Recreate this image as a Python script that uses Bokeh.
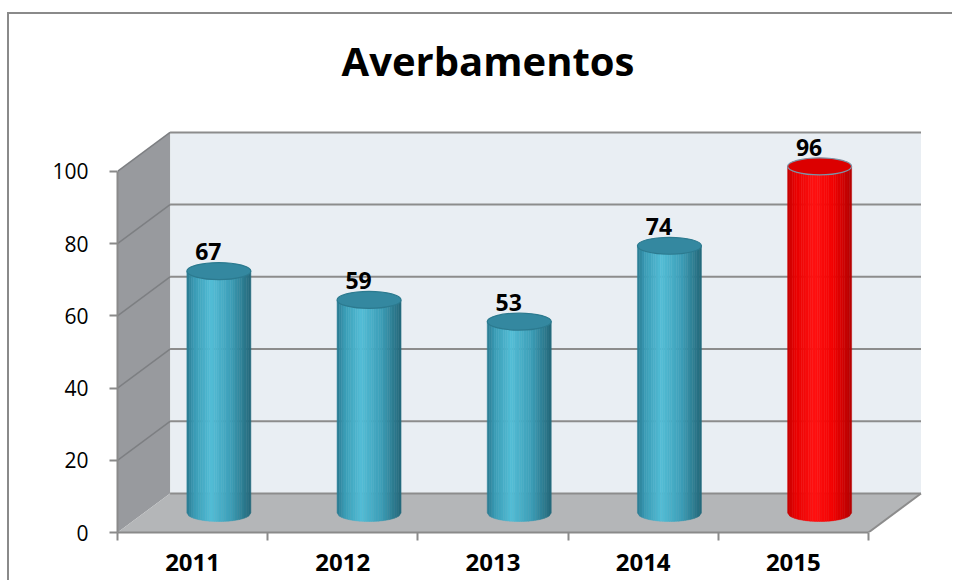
import numpy as np
from bokeh.plotting import figure
from bokeh.models import Range1d, FixedTicker
from bokeh.core.properties import value
from bokeh.embed import file_html
from bokeh.resources import INLINE

# ---- data ----
years = ["2011", "2012", "2013", "2014", "2015"]
counts = [67, 59, 53, 74, 96]
highlight = [False, False, False, False, True]
y_ticks = [0, 20, 40, 60, 80, 100]
title_text = "Averbamentos"

# ---- 3D geometry (data units) ----
DX = 0.35      # depth offset along x (categories)
DY = 10.8      # depth offset along y (values)
CW = 0.426     # cylinder width
EH = 4.7       # ellipse height
NSTRIP = 28

def hex2rgb(h):
    h = h.lstrip("#")
    return np.array([int(h[i:i + 2], 16) for i in (0, 2, 4)], dtype=float)

def grad(stops, t):
    ts = [s[0] for s in stops]
    cs = [hex2rgb(s[1]) for s in stops]
    for i in range(len(ts) - 1):
        if ts[i] <= t <= ts[i + 1]:
            f = (t - ts[i]) / (ts[i + 1] - ts[i])
            c = cs[i] * (1 - f) + cs[i + 1] * f
            return "#%02x%02x%02x" % tuple(int(round(v)) for v in c)
    return stops[-1][1]

blue_stops = [(0, "#2a7a90"), (0.12, "#3a9cb5"), (0.38, "#53bdd6"), (0.7, "#3c9db6"), (1, "#246779")]
red_stops = [(0, "#c40000"), (0.12, "#e80000"), (0.42, "#ff1212"), (0.72, "#f20000"), (1, "#b20000")]

p = figure(width=945, height=568, output_backend="svg", toolbar_location=None,
           x_range=Range1d(0, 5.36), y_range=Range1d(0, 143.45),
           min_border_left=108, min_border_right=32, min_border_top=0, min_border_bottom=50,
           background_fill_color="white", border_fill_color="white")
p.styles = {"border-top": "2px solid #8a8a8a", "border-left": "2px solid #8a8a8a",
            "margin-top": "12px", "margin-left": "7px"}
p.outline_line_color = None
p.xgrid.visible = False
p.ygrid.visible = False

# ---- walls ----
n = len(years)
p.quad(left=[DX], right=[n + DX], bottom=[DY], top=[y_ticks[-1] + DY],
       fill_color="#e9eef3", line_color=None)
p.patch([0, DX, DX, 0], [0, DY, y_ticks[-1] + DY, y_ticks[-1]],
        fill_color="#989a9e", line_color=None)
p.patch([0, n, n + DX, DX], [0, 0, DY, DY], fill_color="#b4b6b8", line_color=None)

# gridlines
p.segment(x0=[DX] * len(y_ticks), y0=[t + DY for t in y_ticks],
          x1=[n + DX] * len(y_ticks), y1=[t + DY for t in y_ticks],
          line_color="#8c8c8c", line_width=2)
p.segment(x0=[0] * (len(y_ticks) - 1), y0=y_ticks[1:],
          x1=[DX] * (len(y_ticks) - 1), y1=[t + DY for t in y_ticks[1:]],
          line_color="#7d7f82", line_width=1.5)
p.segment(x0=[n], y0=[0], x1=[n + DX], y1=[DY], line_color="#8c8c8c", line_width=2)

# ---- cylinders ----
xs, ys, cols = [], [], []
tops_x, tops_y, top_fill, top_line = [], [], [], []
base = DY / 2
for i, (v, hl) in enumerate(zip(counts, highlight)):
    cx = i + 0.5 + DX / 2
    stops = red_stops if hl else blue_stops
    edges = np.linspace(cx - CW / 2, cx + CW / 2, NSTRIP + 1)
    for k in range(NSTRIP):
        x0, x1 = edges[k], edges[k + 1]
        u0 = (x0 - cx) / (CW / 2)
        u1 = (x1 - cx) / (CW / 2)
        b0 = base - EH / 2 * np.sqrt(max(0.0, 1 - u0 ** 2))
        b1 = base - EH / 2 * np.sqrt(max(0.0, 1 - u1 ** 2))
        top = v + base
        xs.append([x0, x1, x1, x0])
        ys.append([top, top, b1, b0])
        cols.append(grad(stops, (k + 0.5) / NSTRIP))
    tops_x.append(cx)
    tops_y.append(v + base)
    top_fill.append("#dc0000" if hl else "#3488a0")
    top_line.append("#7d93a6" if hl else "#2c7a8f")

p.patches(xs, ys, fill_color=cols, line_color=cols, line_width=0.5)
p.ellipse(x=tops_x, y=tops_y, width=CW, height=EH, fill_color=top_fill,
          line_color=top_line, line_width=1.2)

# value labels
p.text(x=[t - 0.07 for t in tops_x], y=[t + EH / 2 + 3.0 for t in tops_y],
       text=[str(v) for v in counts], text_font=value("Open Sans"),
       text_font_style="bold", text_font_size="23px", text_color="black",
       text_align="center", text_baseline="alphabetic")

# chart title (drawn inside the frame area, above the 3D box)
p.text(x=[2.467], y=[130.8], text=[title_text], text_font=value("Open Sans"),
       text_font_style="bold", text_font_size="40px", text_color="black",
       text_align="center", text_baseline="middle")

# ---- axes ----
ya = p.yaxis[0]
ya.ticker = FixedTicker(ticks=y_ticks)
ya.bounds = (y_ticks[0], y_ticks[-1])
ya.axis_line_color = "#8a8a8a"
ya.axis_line_width = 2
ya.major_tick_line_color = "#8a8a8a"
ya.major_tick_line_width = 2
ya.major_tick_out = 8
ya.major_tick_in = 0
ya.minor_tick_line_color = None
ya.major_label_standoff = 21
ya.major_label_text_font = "Open Sans"
ya.major_label_text_font_size = "21px"
ya.major_label_text_color = "black"

centers = [i + 0.5 for i in range(n)]
xa = p.xaxis[0]
xa.ticker = FixedTicker(ticks=centers, minor_ticks=list(range(n + 1)))
xa.major_label_overrides = {c: y for c, y in zip(centers, years)}
xa.bounds = (0, n)
xa.axis_line_color = "#8a8a8a"
xa.axis_line_width = 2
xa.major_tick_line_color = None
xa.major_tick_out = 0
xa.major_tick_in = 0
xa.minor_tick_line_color = "#8a8a8a"
xa.minor_tick_line_width = 2
xa.minor_tick_out = 8
xa.minor_tick_in = 0
xa.major_label_standoff = 13
xa.major_label_text_font = "Open Sans"
xa.major_label_text_font_style = "bold"
xa.major_label_text_font_size = "24px"
xa.major_label_text_color = "black"

open("out.html", "w").write(file_html(p, INLINE))
